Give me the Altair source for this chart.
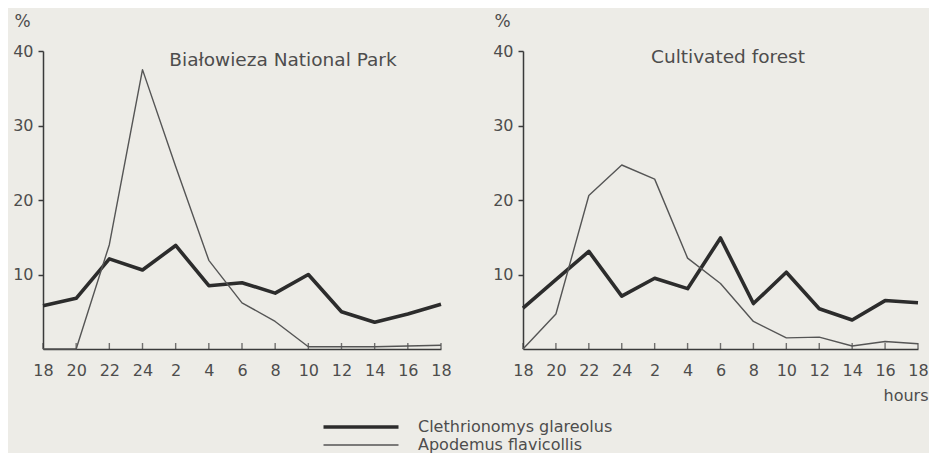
import altair as alt
import pandas as pd

# ---------------- data ----------------
hours = ["18", "20", "22", "24", "2", "4", "6", "8", "10", "12", "14", "16", "18"]
species = ["Clethrionomys glareolus", "Apodemus flavicollis"]
panel_titles = ["Białowieza National Park", "Cultivated forest"]
y_ticks = [10, 20, 30, 40]

bial_cleth = [5.8, 6.8, 12.1, 10.6, 13.9, 8.5, 8.9, 7.5, 10.0, 5.0, 3.6, 4.7, 6.0]
bial_apod = [0.0, 0.0, 14.0, 37.5, 24.5, 11.9, 6.2, 3.7, 0.3, 0.3, 0.3, 0.4, 0.5]
cult_cleth = [5.5, 9.3, 13.1, 7.1, 9.5, 8.1, 14.9, 6.1, 10.3, 5.4, 3.9, 6.5, 6.2]
cult_apod = [0.0, 4.7, 20.6, 24.7, 22.8, 12.2, 8.8, 3.7, 1.5, 1.6, 0.4, 1.0, 0.7]

# ---------------- styling ----------------
FONT = "DejaVu Sans"
TXT = "#4d4d4d"
INK = "#3a3a3a"
BG = "#edece7"
H = 298

idx = list(range(len(hours)))
label_expr = "[" + ",".join("'" + h + "'" for h in hours) + "][datum.value]"

legend = alt.Legend(
    title=None,
    orient="none",
    legendX=308,
    legendY=366,
    direction="vertical",
    symbolType="M-4.6875,0H4.6875",
    symbolSize=256,
    labelOffset=47,
    labelFontSize=16,
    labelFont=FONT,
    labelColor=TXT,
    labelLimit=0,
    rowPadding=1,
    padding=0,
)


def panel(cleth, apod, title, title_x, title_y, width, with_hours):
    n = len(hours)
    df = pd.DataFrame({
        "idx": idx * 2,
        "value": cleth + apod,
        "species": [species[0]] * n + [species[1]] * n,
    })
    ticks_df = pd.DataFrame({"idx": idx, "value": [0] * n})
    title_df = pd.DataFrame({"t": [title]})

    x_axis_kw = dict(
        values=idx, labelExpr=label_expr, tickSize=0, labelPadding=13,
        labelFontSize=16, labelFont=FONT, labelColor=TXT, labelFlush=False,
        domainColor=INK, domainWidth=1.5, grid=False,
    )
    if with_hours:
        x_axis_kw.update(
            title="hours", titleX=width + 10, titleY=46, titleAlign="right",
            titleBaseline="middle", titleFontSize=16, titleFontWeight="normal",
            titleFont=FONT, titleColor=TXT,
        )
    else:
        x_axis_kw["title"] = None

    x_enc = alt.X("idx:Q", scale=alt.Scale(domain=[0, len(hours) - 1], nice=False, zero=False),
                  axis=alt.Axis(**x_axis_kw))
    y_enc = alt.Y("value:Q", scale=alt.Scale(domain=[0, 40], nice=False),
                  axis=alt.Axis(values=y_ticks, title="%", titleAngle=0, titleX=-29, titleY=-29.5,
                                titleAlign="left", titleBaseline="middle", titleFontSize=17,
                                titleFontWeight="normal", titleFont=FONT, titleColor=TXT,
                                tickSize=5, tickColor=INK, tickWidth=1.5, labelPadding=5,
                                labelFontSize=16, labelFont=FONT, labelColor=TXT,
                                domainColor=INK, domainWidth=1.5, grid=False))

    lines = alt.Chart(df).mark_line(strokeJoin="round").encode(
        x=x_enc,
        y=y_enc,
        color=alt.Color("species:N", scale=alt.Scale(domain=species, range=["#2c2c2c", "#555555"]),
                        legend=legend),
        strokeWidth=alt.StrokeWidth("species:N", scale=alt.Scale(domain=species, range=[3.6, 1.4]),
                                    legend=legend),
    )
    ticks = alt.Chart(ticks_df).mark_tick(orient="vertical", size=6, thickness=1.4,
                                          color=INK, yOffset=-3).encode(x=x_enc, y=y_enc)
    ttl = alt.Chart(title_df).mark_text(
        align="center", baseline="middle", fontSize=18.5, font=FONT, color=TXT
    ).encode(x=alt.value(title_x), y=alt.value(title_y), text="t:N")

    return alt.layer(ticks, lines, ttl).properties(width=width, height=H)


left = panel(bial_cleth, bial_apod, panel_titles[0], 240, 9, 398, False)
right = panel(cult_cleth, cult_apod, panel_titles[1], 205, 6, 395, True)

chart = alt.hconcat(left, right, spacing=40).properties(
    background=BG,
    padding={"left": 4, "top": 4, "right": 0, "bottom": 0},
).configure_view(stroke=None)

chart.save("out.html", embed_options={"renderer": "svg", "actions": False})
